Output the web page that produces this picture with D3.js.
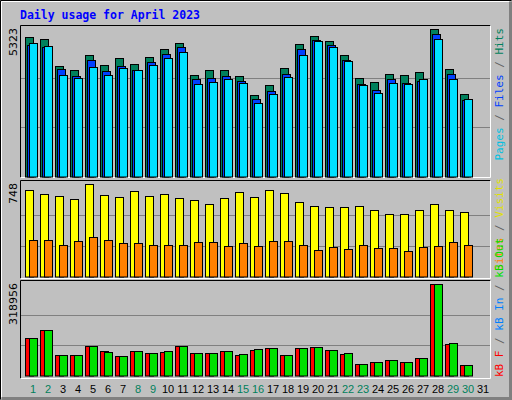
<!DOCTYPE html>
<html><head><meta charset="utf-8">
<script src="https://cdn.jsdelivr.net/npm/d3@7"></script>
<style>body{margin:0;background:#fff}svg{display:block}</style>
</head><body>
<svg id="c" width="512" height="400"></svg>
<script>
const days = d3.range(1, 32);
const weekendDays = [1,2,8,9,15,16,22,23,29,30];
const hits  = [5014,4942,3971,3827,4367,4007,4259,4043,4295,4583,4798,3647,3827,3827,3611,2928,3288,3899,4762,5050,4870,4367,3539,3396,3683,3647,3755,5323,3863,2964];
const files = [4737,4655,3863,3611,4187,3791,3971,3827,4115,4403,4655,3503,3539,3611,3431,2784,3072,3683,4583,4906,4726,4187,3324,3108,3503,3360,3431,5122,3683,2748];
const pages = [4798,4691,3647,3539,3935,3647,3899,3827,4007,4259,4475,3324,3396,3503,3359,2640,2964,3575,4367,4870,4655,4151,3288,3000,3359,3324,3503,4942,3503,2784];
const visits = [699,667,651,627,748,659,643,691,651,667,635,619,586,635,683,643,699,675,603,570,562,562,570,538,506,506,538,586,538,522];
const sites  = [296,296,256,288,320,296,272,272,256,256,256,280,280,248,272,248,288,288,256,215,239,223,256,231,231,207,239,248,280,256];
const kbF   = [129600,157600,70000,70000,101500,84000,66500,84000,77000,80500,101500,77000,77000,84000,70000,87500,94500,70000,94500,98000,87500,73500,38500,45500,52500,45500,59500,318956,108500,35000];
const kbOut = [129600,157600,70000,70000,101500,80500,66500,84000,77000,84000,101500,77000,77000,84000,73500,91000,94500,70000,94500,98000,87500,77000,38500,45500,52500,45500,59500,318956,112000,35000];
const maxLabels = ["5323","748","318956"];

const svg = d3.select("#c");
svg.append("rect").attr("width",512).attr("height",400).attr("fill","#c0c0c0");
svg.append("path").attr("d","M0.5,399.5V0.5H511.5").attr("stroke","#000").attr("fill","none");
svg.append("path").attr("d","M1.5,398.5V1.5H510.5").attr("stroke","#fff").attr("fill","none");
svg.append("path").attr("d","M1.5,398.5H510.5V1.5").attr("stroke","#808080").attr("stroke-width",3).attr("fill","none");

svg.append("text").attr("x",20).attr("y",19).text("Daily usage for April 2023")
  .attr("font-family","DejaVu Sans Mono").attr("font-weight","bold").attr("font-size",11.5).attr("fill","#0000ff");

const x = d3.scaleLinear().domain([1,31]).range([25,475]);

const panels = [
  {top:25, bottom:177, base:176.5, topY:28.5, ymax:5323, label:maxLabels[0],
   series:[{d:hits,c:"#00805c",off:0,w:8},{d:files,c:"#0040ff",off:2,w:8},{d:pages,c:"#00e0ff",off:4,w:8}],
   right:[["Pages","#00c0e0"],[" / ","#606060"],["Files","#0040ff"],[" / ","#606060"],["Hits","#00805c"]], ranchor:"end", ry:28},
  {top:180, bottom:278, base:276.5, topY:184.3, ymax:748, label:maxLabels[1],
   series:[{d:visits,c:"#ffff00",off:0,w:8},{d:sites,c:"#ff8000",off:4,w:8}],
   right:[["Sites","#ff8000"],[" / ","#606060"],["Visits","#e0e000"]], ranchor:"end", ry:178},
  {top:280, bottom:378, base:375.5, topY:284.3, ymax:318956, label:maxLabels[2],
   series:[{d:kbF,c:"#ff0000",off:0,w:8},{d:kbOut,c:"#00e000",off:4,w:8}],
   right:[["kB F","#ff0000"],[" / ","#606060"],["kB In","#0080ff"],[" / ","#606060"],["kB Out","#00e000"]], ranchor:"start", ry:377}
];

panels.forEach(p => {
  const y = d3.scaleLinear().domain([0,p.ymax]).range([p.base, p.topY]);
  const g = svg.append("g");
  g.append("rect").attr("x",20.5).attr("y",p.top+0.5).attr("width",470).attr("height",p.bottom-p.top).attr("fill","#c0c0c0");
  g.append("path").attr("d",`M20.5,${p.bottom+0.5}V${p.top+0.5}H490.5`).attr("stroke","#000").attr("fill","none");
  g.append("path").attr("d",`M20.5,${p.bottom+0.5}H490.5V${p.top+0.5}`).attr("stroke","#fff").attr("fill","none");
  [1/3,2/3].forEach(f => {
    const yy = Math.round(y(p.ymax*f))+0.5;
    g.append("line").attr("x1",21).attr("x2",490).attr("y1",yy).attr("y2",yy).attr("stroke","#808080");
  });
  p.series.forEach(s => {
    g.selectAll(null).data(s.d).enter().append("rect")
      .attr("x",(v,i)=>x(i+1)+s.off+0.5).attr("width",s.w)
      .attr("y",v=>Math.round(y(v))+0.5).attr("height",v=>p.base-Math.round(y(v)))
      .attr("fill",s.c).attr("stroke","#000");
  });
  g.append("text").attr("transform",`translate(17,${p.top+3}) rotate(-90)`).attr("text-anchor","end")
    .attr("font-family","DejaVu Sans").attr("font-size",11).attr("fill","#000").text(p.label);
  const t = svg.append("text").attr("transform",`translate(503,${p.ry}) rotate(-90)`).attr("text-anchor",p.ranchor)
    .attr("font-family","DejaVu Sans Mono").attr("font-size",11);
  p.right.forEach(r => t.append("tspan").attr("fill",r[1]).text(r[0]));
});

svg.selectAll(".dl").data(days).enter().append("text")
  .attr("x",d=>x(d)+8).attr("y",393).attr("text-anchor","middle")
  .attr("font-family","Liberation Sans").attr("font-size",11)
  .attr("fill",d=>weekendDays.includes(d)?"#00805c":"#000").text(d=>d);
</script>
</body></html>
